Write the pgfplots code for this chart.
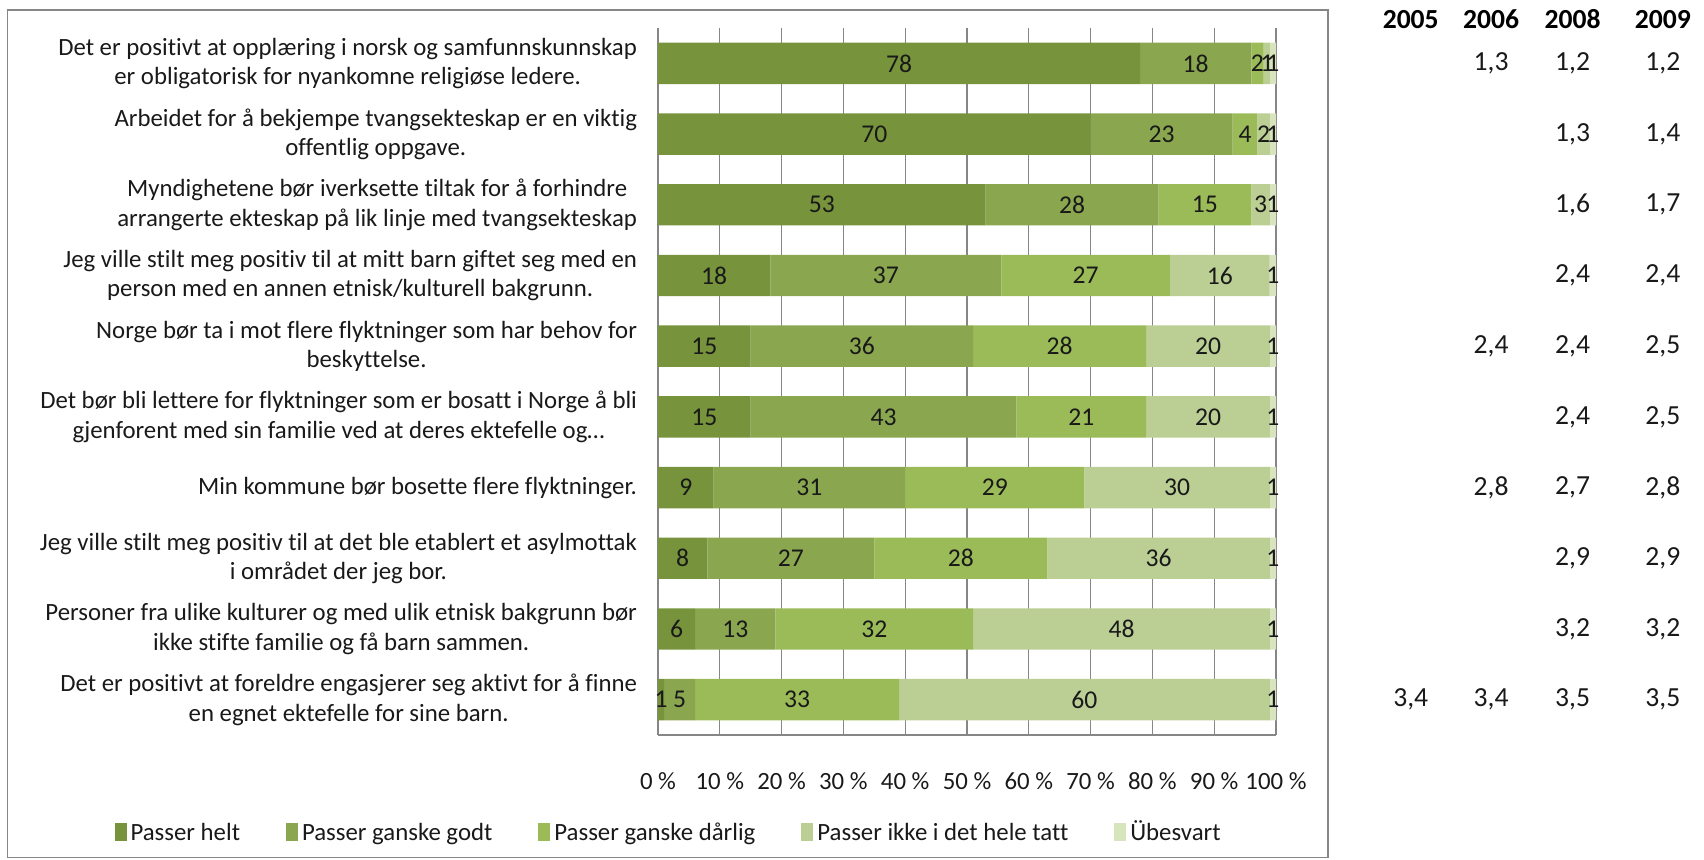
\documentclass[border=0pt]{standalone}
\usepackage{fontspec}
\setmainfont{Carlito}[Ligatures=NoCommon]
\usepackage{pgfplots}
\pgfplotsset{compat=1.18}
\definecolor{c1}{RGB}{119,147,60}
\definecolor{c2}{RGB}{138,167,80}
\definecolor{c3}{RGB}{155,187,89}
\definecolor{c4}{RGB}{187,206,148}
\definecolor{c5}{RGB}{215,228,190}
\definecolor{gridc}{RGB}{134,134,134}
\newcommand{\lf}{\fontsize{12.4}{14.7}\selectfont}
\newcommand{\nf}{\fontsize{12.8}{14.7}\selectfont}
\newcommand{\tf}{\fontsize{13.8}{16}\selectfont}
\begin{document}
\begin{tikzpicture}
\pgfplotsset{
  common/.style={
    at={(329pt,62pt)}, anchor=south west, scale only axis,
    width=309pt, height=353.5pt,
    xmin=0, xmax=100, ymin=0.5, ymax=10.5, y dir=reverse,
  }
}
\draw[gridc, line width=0.6pt] (3.8pt,0.8pt) rectangle (664pt,424.5pt);
\begin{axis}[common,
  xbar stacked, bar width=20.7pt,
  axis x line*=bottom, axis y line*=left,
  axis line style={gridc, line width=0.6pt},
  xmajorgrids, grid style={gridc, line width=0.6pt},
  xtick={0,10,...,100},
  xticklabels={0 \%,10 \%,20 \%,30 \%,40 \%,50 \%,60 \%,70 \%,80 \%,90 \%,100 \%},
  ytick={1,...,10},
  yticklabels={
    {Det er positivt at opplæring i norsk og samfunnskunnskap\\er obligatorisk for nyankomne religiøse ledere.},
    {Arbeidet for å bekjempe tvangsekteskap er en viktig\\offentlig oppgave.},
    {Myndighetene bør iverksette tiltak for å forhindre\\arrangerte ekteskap på lik linje med tvangsekteskap},
    {Jeg ville stilt meg positiv til at mitt barn giftet seg med en\\person med en annen etnisk/kulturell bakgrunn.},
    {Norge bør ta i mot flere flyktninger som har behov for\\beskyttelse.},
    {Det bør bli lettere for flyktninger som er bosatt i Norge å bli\\gjenforent med sin familie ved at deres ektefelle og…},
    {Min kommune bør bosette flere flyktninger.},
    {Jeg ville stilt meg positiv til at det ble etablert et asylmottak\\i området der jeg bor.},
    {Personer fra ulike kulturer og med ulik etnisk bakgrunn bør\\ikke stifte familie og få barn sammen.},
    {Det er positivt at foreldre engasjerer seg aktivt for å finne\\en egnet ektefelle for sine barn.}
  },
  major tick length=0pt,
  tick label style={font=\lf, text=black!90},
  yticklabel style={align=center, xshift=-7pt},
  xticklabel style={yshift=-15pt},
  legend columns=5,
  legend style={at={(-0.88,-0.137)}, anchor=west, draw=none, fill=none, inner sep=0pt,
    font=\lf, text=black!90, /tikz/every even column/.append style={column sep=21pt}},
  legend image code/.code={\fill[#1] (0pt,-4.5pt) rectangle (6pt,4.5pt);},
]
\addplot[fill=c1, draw=none] coordinates {(78,1) (70,2) (53,3) (18.18,4) (15,5) (15,6) (9,7) (8,8) (6,9) (1,10)};
\addplot[fill=c2, draw=none] coordinates {(18,1) (23,2) (28,3) (37.37,4) (36,5) (43,6) (31,7) (27,8) (13,9) (5,10)};
\addplot[fill=c3, draw=none] coordinates {(2,1) (4,2) (15,3) (27.27,4) (28,5) (21,6) (29,7) (28,8) (32,9) (33,10)};
\addplot[fill=c4, draw=none] coordinates {(1,1) (2,2) (3,3) (16.16,4) (20,5) (20,6) (30,7) (36,8) (48,9) (60,10)};
\addplot[fill=c5, draw=none] coordinates {(1,1) (1,2) (1,3) (1.01,4) (1,5) (1,6) (1,7) (1,8) (1,9) (1,10)};
\legend{\vphantom{Üg}Passer helt, \vphantom{Üg}Passer ganske godt, \vphantom{Üg}Passer ganske dårlig, \vphantom{Üg}Passer ikke i det hele tatt, \vphantom{Üg}Übesvart}
\end{axis}
\begin{axis}[common, hide axis, clip=false]
\addplot[only marks, mark=none, nodes near coords, point meta=explicit symbolic,
  every node near coord/.append style={anchor=center, font=\nf, text=black!90}]
  table[meta=l, row sep=\\] {
x y l\\
39 1 78\\ 87 1 18\\ 97 1 2\\ 98.5 1 1\\ 99.5 1 1\\
35 2 70\\ 81.5 2 23\\ 95 2 4\\ 98 2 2\\ 99.5 2 1\\
26.5 3 53\\ 67 3 28\\ 88.5 3 15\\ 97.5 3 3\\ 99.5 3 1\\
9.09 4 18\\ 36.87 4 37\\ 69.19 4 27\\ 90.91 4 16\\ 99.49 4 1\\
7.5 5 15\\ 33 5 36\\ 65 5 28\\ 89 5 20\\ 99.5 5 1\\
7.5 6 15\\ 36.5 6 43\\ 68.5 6 21\\ 89 6 20\\ 99.5 6 1\\
4.5 7 9\\ 24.5 7 31\\ 54.5 7 29\\ 84 7 30\\ 99.5 7 1\\
4 8 8\\ 21.5 8 27\\ 49 8 28\\ 81 8 36\\ 99.5 8 1\\
3 9 6\\ 12.5 9 13\\ 35 9 32\\ 75 9 48\\ 99.5 9 1\\
0.5 10 1\\ 3.5 10 5\\ 22.5 10 33\\ 69 10 60\\ 99.5 10 1\\
};
\addplot[only marks, mark=none, nodes near coords, point meta=explicit symbolic,
  every node near coord/.append style={anchor=center, font=\tf\bfseries, text=black}]
  table[meta=l, row sep=\\] {
x y l\\
121.8 0.38 2005\\ 134.8 0.38 2006\\ 148.0 0.38 2008\\ 162.6 0.38 2009\\
};
\addplot[only marks, mark=none, nodes near coords, point meta=explicit symbolic,
  every node near coord/.append style={anchor=center, font=\tf, text=black!90}]
  table[meta=l, row sep=\\] {
x y l\\
134.8 1 1,3\\ 148.0 1 1,2\\ 162.6 1 1,2\\
148.0 2 1,3\\ 162.6 2 1,4\\
148.0 3 1,6\\ 162.6 3 1,7\\
148.0 4 2,4\\ 162.6 4 2,4\\
134.8 5 2,4\\ 148.0 5 2,4\\ 162.6 5 2,5\\
148.0 6 2,4\\ 162.6 6 2,5\\
134.8 7 2,8\\ 148.0 7 2,7\\ 162.6 7 2,8\\
148.0 8 2,9\\ 162.6 8 2,9\\
148.0 9 3,2\\ 162.6 9 3,2\\
121.8 10 3,4\\ 134.8 10 3,4\\ 148.0 10 3,5\\ 162.6 10 3,5\\
};
\end{axis}
\pgfresetboundingbox
\path (0,0) rectangle (852pt,429.5pt);
\end{tikzpicture}
\end{document}
